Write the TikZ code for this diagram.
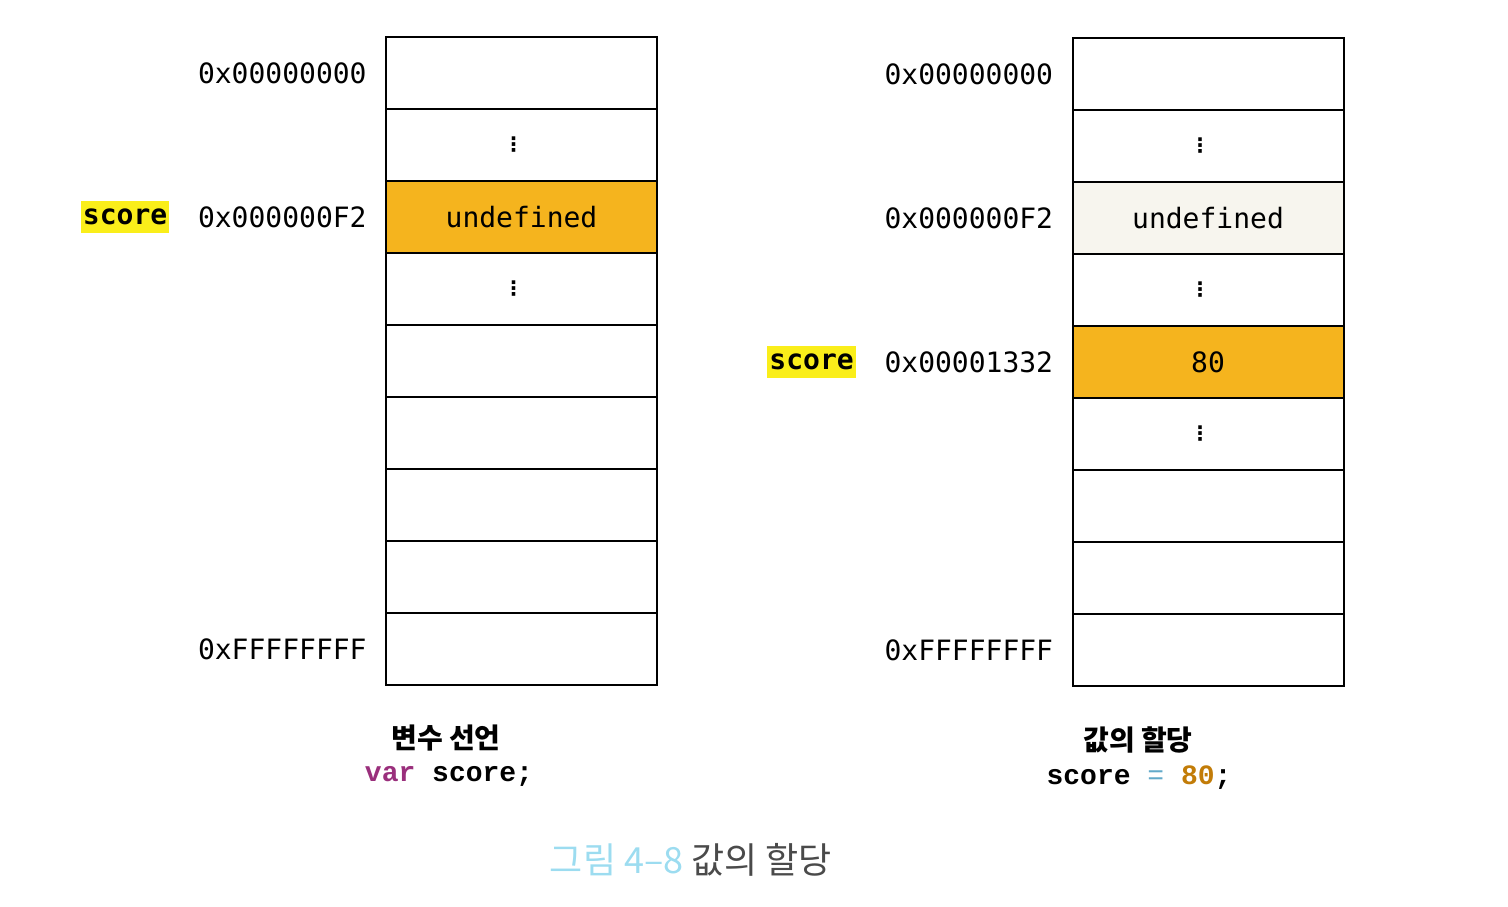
\documentclass[tikz,border=0pt]{standalone}
\usepackage{fontspec}
\setmonofont{DejaVu Sans Mono}
\newfontfamily\codefont{Liberation Mono}
\newfontfamily\krfont{Noto Sans CJK KR}
\newfontfamily\dotfont{DejaVu Sans}
\usetikzlibrary{positioning}

\definecolor{hotcell}{HTML}{F5B41E}
\definecolor{palecell}{HTML}{F7F5EE}
\definecolor{hlyellow}{HTML}{FAEE1A}
\definecolor{kwpurple}{HTML}{9A2F7C}
\definecolor{opblue}{HTML}{62A9C9}
\definecolor{numorange}{HTML}{C27C08}
\definecolor{figcyan}{HTML}{9CDCF0}
\definecolor{figgray}{HTML}{4A4A4A}

\tikzset{
    cell/.style={draw, line width=1pt, minimum width=135.5pt, minimum height=36pt,
        inner sep=0pt, font=\ttfamily\fontsize{14}{16}\selectfont},
    hot/.style={fill=hotcell},
    pale/.style={fill=palecell},
    addr/.style={inner sep=0pt, font=\ttfamily\fontsize{14}{16}\selectfont},
    varname/.style={fill=hlyellow, inner xsep=1pt, inner ysep=4pt,
        font=\ttfamily\bfseries\fontsize{14}{16}\selectfont},
    vdot/.style={inner sep=0pt, xshift=-4pt, font=\dotfont\bfseries\fontsize{10}{10}\selectfont},
    title/.style={font=\krfont\bfseries\fontsize{14}{16}\selectfont},
    code/.style={font=\codefont\bfseries\fontsize{14}{16}\selectfont},
}

\begin{document}
\begin{tikzpicture}[x=0.5pt, y=-0.5pt]
    \useasboundingbox ( 0, 0 ) rectangle ( 1508, 906 );

    % memory before: var score;
    \foreach \i/\txt/\sty in {1//, 2//, 3/undefined/hot, 4//, 5//, 6//, 7//, 8//, 9//}
        \node [cell, \sty] (L\i) at ( 521.5, {37 + 72*(\i - 0.5)} ) {\txt};
    \foreach \i in {2, 4}
        \node [vdot] (dL\i) at (L\i) {⋮};

    \node [addr, left=9pt of L1] (aL1) {0x00000000};
    \node [addr, left=9pt of L3] (aL3) {0x000000F2};
    \node [addr, left=9pt of L9] (aL9) {0xFFFFFFFF};
    \node [varname, left=14pt of aL3] (sL) {score};

    % memory after: score = 80;
    \foreach \i/\txt/\sty in {1//, 2//, 3/undefined/pale, 4//, 5/80/hot, 6//, 7//, 8//, 9//}
        \node [cell, \sty] (R\i) at ( 1208, {38 + 72*(\i - 0.5)} ) {\txt};
    \foreach \i in {2, 4, 6}
        \node [vdot] (dR\i) at (R\i) {⋮};

    \node [addr, left=9pt of R1] (aR1) {0x00000000};
    \node [addr, left=9pt of R3] (aR3) {0x000000F2};
    \node [addr, left=9pt of R5] (aR5) {0x00001332};
    \node [addr, left=9pt of R9] (aR9) {0xFFFFFFFF};
    \node [varname, left=14pt of aR5] (sR) {score};

    % captions
    \node [title] (tL) at ( 446, 738 ) {변수 선언};
    \node [code] (cL) at ( 449, 776 ) {\textcolor{kwpurple}{var} score;};
    \node [title] (tR) at ( 1138, 740 ) {값의 할당};
    \node [code] (cR) at ( 1139, 778 ) {score \textcolor{opblue}{\mdseries=} \textcolor{numorange}{80};};

    \node [font=\krfont\fontsize{18}{20}\selectfont] (fig) at ( 691, 860 )
        {\textcolor{figcyan}{그림 4–8} \textcolor{figgray}{값의 할당}};
\end{tikzpicture}
\end{document}
